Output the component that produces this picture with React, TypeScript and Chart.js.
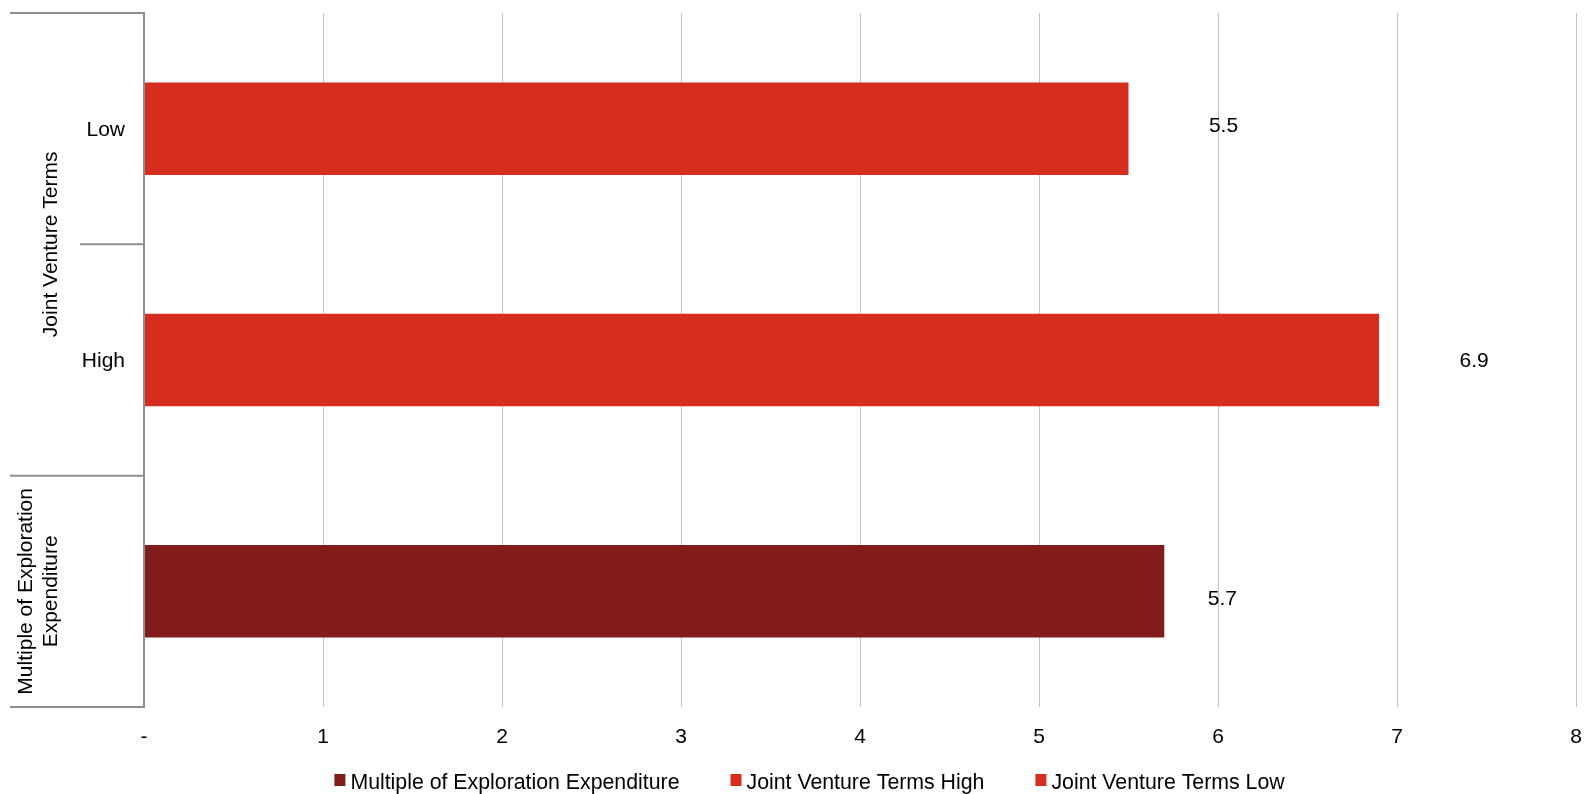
import React, { useEffect, useRef } from "react";
import { Chart, registerables } from "chart.js";

Chart.register(...registerables);

// Category axis: inner labels and the outer group each row belongs to
const categoryLabels = ["Low", "High", ""];
const categoryGroups = [
  "Joint Venture Terms",
  "Joint Venture Terms",
  "Multiple of Exploration Expenditure",
];

// Series
const seriesNames = [
  "Multiple of Exploration Expenditure",
  "Joint Venture Terms High",
  "Joint Venture Terms Low",
];
const multipleValues = [null, null, 5.7];
const jvHighValues = [null, 6.9, null];
const jvLowValues = [5.5, null, null];

// Value axis
const xMin = 0;
const xMax = 8;
const xTickLabels = ["-", "1", "2", "3", "4", "5", "6", "7", "8"];

const FONT = "'Liberation Sans', Arial, Helvetica, sans-serif";
const FONT_SIZE = 21;
const AXIS_GREY = "#8e8e8e";
const GRID_GREY = "#c4c4c4";
const DARK_RED = "#821b1b";
const RED = "#d62e1e";

// Manually placed value labels, per series (pixels from the bar end / bar centre)
const labelShift = [
  { dx: 58, dy: 6.5 },
  { dx: 95, dy: 0 },
  { dx: 95, dy: -4 },
];

const categoryAxisPlugin = {
  id: "categoryAxis",
  afterDraw(chart: any) {
    const { ctx, chartArea, scales } = chart;
    const y = scales.y;
    const n = categoryLabels.length;
    const step = y.getPixelForValue(1) - y.getPixelForValue(0);
    const top = (i: number) => y.getPixelForValue(i) - step / 2;
    const outerX = 10;
    const innerX = 80;
    const axisX = chartArea.left;

    ctx.save();
    ctx.strokeStyle = AXIS_GREY;
    ctx.lineWidth = 2;
    ctx.beginPath();
    ctx.moveTo(axisX, chartArea.top);
    ctx.lineTo(axisX, chartArea.bottom);
    ctx.stroke();

    for (let i = 0; i <= n; i++) {
      const yb = i < n ? top(i) : top(n - 1) + step;
      const groupEdge = i === 0 || i === n || categoryGroups[i] !== categoryGroups[i - 1];
      ctx.beginPath();
      ctx.moveTo(groupEdge ? outerX : innerX, yb);
      ctx.lineTo(axisX + 1, yb);
      ctx.stroke();
    }

    ctx.font = `${FONT_SIZE}px ${FONT}`;
    ctx.fillStyle = "#000";
    ctx.textAlign = "right";
    ctx.textBaseline = "alphabetic";
    categoryLabels.forEach((label, i) => {
      if (label) ctx.fillText(label, 125, y.getPixelForValue(i) + 7);
    });

    // Group labels, rotated, wrapped to the group's extent
    let start = 0;
    for (let i = 1; i <= n; i++) {
      if (i === n || categoryGroups[i] !== categoryGroups[start]) {
        const name = categoryGroups[start];
        const y0 = top(start);
        const y1 = top(i - 1) + step;
        const span = y1 - y0;
        const words = name.split(" ");
        const lines: string[] = [];
        let cur = "";
        words.forEach((w) => {
          const test = cur ? cur + " " + w : w;
          if (ctx.measureText(test).width > span * 0.95 && cur) {
            lines.push(cur);
            cur = w;
          } else {
            cur = test;
          }
        });
        if (cur) lines.push(cur);
        const lh = FONT_SIZE * 1.2;
        ctx.save();
        ctx.translate(57, (y0 + y1) / 2);
        ctx.rotate(-Math.PI / 2);
        ctx.textAlign = "center";
        ctx.textBaseline = "alphabetic";
        lines.forEach((ln, k) => {
          ctx.fillText(ln, 0, -(lines.length - 1 - k) * lh);
        });
        ctx.restore();
        start = i;
      }
    }
    ctx.restore();
  },
};

const valueLabelPlugin = {
  id: "valueLabels",
  afterDatasetsDraw(chart: any) {
    const { ctx } = chart;
    ctx.save();
    ctx.font = `${FONT_SIZE}px ${FONT}`;
    ctx.fillStyle = "#000";
    ctx.textAlign = "center";
    ctx.textBaseline = "alphabetic";
    chart.data.datasets.forEach((ds: any, di: number) => {
      const meta = chart.getDatasetMeta(di);
      meta.data.forEach((el: any, i: number) => {
        const v = ds.data[i];
        if (v === null || v === undefined) return;
        const s = labelShift[di];
        ctx.fillText(v.toFixed(1), el.x + s.dx, el.y + s.dy + 7);
      });
    });
    ctx.restore();
  },
};

const legendPlugin = {
  id: "bottomLegend",
  afterDraw(chart: any) {
    const { ctx } = chart;
    ctx.save();
    ctx.font = `21.3px ${FONT}`;
    ctx.textBaseline = "alphabetic";
    ctx.textAlign = "left";
    const boxW = 11;
    const boxH = 12;
    const gapText = 5;
    const gapItem = 51;
    const items = chart.data.datasets.map((ds: any) => ({
      label: ds.label,
      color: ds.backgroundColor,
      w: ctx.measureText(ds.label).width,
    }));
    const total =
      items.reduce((a: number, it: any) => a + boxW + gapText + it.w, 0) +
      gapItem * (items.length - 1);
    let x = chart.width / 2 + 17 - total / 2;
    const baseline = 789;
    items.forEach((it: any) => {
      ctx.fillStyle = it.color;
      ctx.fillRect(x, baseline - 15, boxW, boxH);
      ctx.fillStyle = "#000";
      ctx.fillText(it.label, x + boxW + gapText, baseline);
      x += boxW + gapText + it.w + gapItem;
    });
    ctx.restore();
  },
};

export default function App() {
  const canvasRef = useRef<HTMLCanvasElement | null>(null);

  useEffect(() => {
    if (!canvasRef.current) return;
    const chart = new Chart(canvasRef.current, {
      type: "bar",
      data: {
        labels: categoryLabels.map((l, i) => l || categoryGroups[i]),
        datasets: [
          { label: seriesNames[0], data: multipleValues, backgroundColor: DARK_RED },
          { label: seriesNames[1], data: jvHighValues, backgroundColor: RED },
          { label: seriesNames[2], data: jvLowValues, backgroundColor: RED },
        ],
      },
      options: {
        indexAxis: "y",
        animation: false,
        responsive: true,
        maintainAspectRatio: false,
        layout: { padding: { left: 144, right: 9, top: 13, bottom: 0 } },
        datasets: {
          bar: {
            grouped: false,
            categoryPercentage: 1,
            barPercentage: 0.4,
            borderWidth: 0,
          },
        },
        plugins: {
          legend: { display: false },
          tooltip: { enabled: false },
        },
        scales: {
          x: {
            type: "linear",
            min: xMin,
            max: xMax,
            afterFit: (scale: any) => {
              scale.height = 87;
              scale.paddingLeft = 0;
              scale.paddingRight = 0;
            },
            border: { display: false },
            grid: {
              color: GRID_GREY,
              lineWidth: 1,
              drawTicks: false,
            },
            ticks: {
              stepSize: 1,
              padding: 18,
              color: "#000",
              font: { family: FONT, size: FONT_SIZE },
              callback: (_v: any, i: number) => xTickLabels[i],
            },
          },
          y: {
            type: "category",
            display: false,
          },
        },
      } as any,
      plugins: [categoryAxisPlugin, valueLabelPlugin, legendPlugin],
    });
    return () => chart.destroy();
  }, []);

  return (
    <div style={{ position: "fixed", left: 0, top: 0, width: 1585, height: 794, background: "#fff" }}>
      <canvas ref={canvasRef} />
    </div>
  );
}
